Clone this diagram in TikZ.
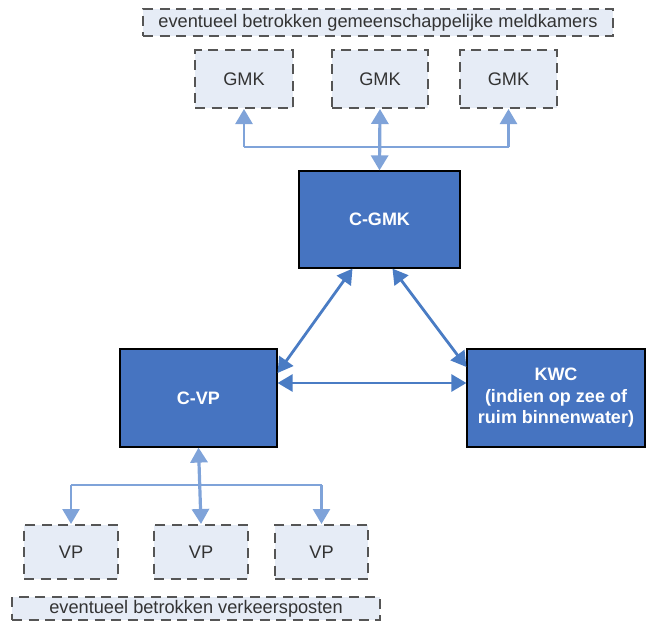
\documentclass[tikz,border=0pt]{standalone}
\usepackage{fontspec}
\setmainfont{Liberation Sans}
\usetikzlibrary{arrows.meta,calc}
\definecolor{darkbox}{HTML}{4674C1}
\definecolor{lightfill}{HTML}{E6ECF6}
\definecolor{dashgray}{HTML}{555555}
\definecolor{treeblue}{HTML}{7FA3D9}
\definecolor{triblue}{HTML}{4A7CC4}
\definecolor{txtgray}{HTML}{333333}
\begin{document}
\begin{tikzpicture}[x=1pt,y=-1pt,
  darknode/.style={draw=black,line width=1.2pt,fill=darkbox,text=white,font=\fontsize{18}{21.5}\selectfont\bfseries,align=center,inner sep=0pt},
  dashnode/.style={draw=dashgray,line width=2pt,dash pattern=on 10pt off 6.5pt,fill=lightfill,text=txtgray,font=\fontsize{18.2}{21}\selectfont,inner sep=0pt},
  bigtip/.tip={Triangle[width=17pt,length=15pt]},
  treearrow/.style={draw=treeblue,line width=2.5pt,-bigtip},
  treeline/.style={draw=treeblue,line width=2.5pt},
  treedouble/.style={draw=treeblue,line width=3.2pt,bigtip-bigtip},
  triarrow/.style={draw=triblue,line width=2.8pt,bigtip-bigtip}
]
\useasboundingbox (0,0) rectangle (646,621);
% top
\node[dashnode,minimum width=470,minimum height=27] (toplabel) at (378,22.5) {eventueel betrokken gemeenschappelijke meldkamers};
\node[dashnode,minimum width=98,minimum height=58] (gmka) at (244,79) {GMK};
\node[dashnode,minimum width=96,minimum height=58] (gmkb) at (380,79) {GMK};
\node[dashnode,minimum width=97,minimum height=58] (gmkc) at (508.5,79) {GMK};
\node[darknode,minimum width=161,minimum height=97] (cgmk) at (379.5,219.5) {C-GMK};
\node[darknode,minimum width=157,minimum height=98] (cvp) at (198.5,398) {C-VP};
\node[darknode,minimum width=178,minimum height=98] (kwc) at (556,398) {KWC\\(indien op zee of\\ruim binnenwater)};
% bottom
\node[dashnode,minimum width=94,minimum height=54] (vpa) at (71,552) {VP};
\node[dashnode,minimum width=94,minimum height=54] (vpb) at (201,552) {VP};
\node[dashnode,minimum width=93,minimum height=54] (vpc) at (321.5,552) {VP};
\node[dashnode,minimum width=368,minimum height=23] (botlabel) at (196,608.5) {eventueel betrokken verkeersposten};
% top tree
\coordinate (tl) at (gmka.south |- 0,147);
\coordinate (tr) at (gmkc.south |- 0,147);
\draw[treeline] (tl) -- (tr);
\draw[treearrow] (tl) -- (gmka.south);
\draw[treearrow] (tr) -- (gmkc.south);
\draw[treedouble] (cgmk.north) -- (gmkb.south);
% triangle
\draw[triarrow] ([xshift=-27pt]cgmk.south) -- ([yshift=25pt]cvp.east);
\draw[triarrow] ([xshift=13pt]cgmk.south) -- ([yshift=31pt]kwc.west);
\draw[triarrow] ([yshift=15pt]cvp.east) -- ([yshift=15pt]kwc.west);
% bottom tree
\coordinate (bl) at (vpa.north |- 0,485);
\coordinate (br) at (vpc.north |- 0,485);
\draw[treeline] (bl) -- (br);
\draw[treearrow] (bl) -- (vpa.north);
\draw[treearrow] (br) -- (vpc.north);
\draw[treedouble] (cvp.south) -- (vpb.north);
\end{tikzpicture}
\end{document}
